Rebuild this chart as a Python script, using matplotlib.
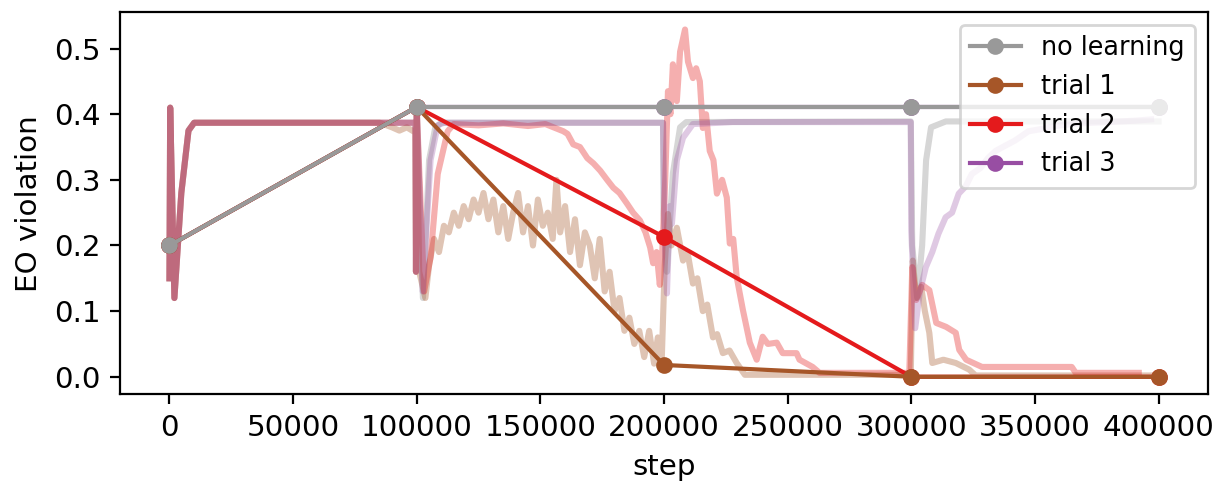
import matplotlib
matplotlib.use("Agg")
import matplotlib.pyplot as plt

# evaluation points (every 100000 steps)
eval_steps = [0, 100000, 200000, 300000, 400000]
eval_nolearn = [0.2, 0.411, 0.411, 0.411, 0.411]
eval_trial1 = [0.2, 0.411, 0.018, 0.0, 0.0]
eval_trial2 = [0.2, 0.411, 0.213, 0.0, 0.0]
eval_trial3 = [0.2, 0.411, 0.411, 0.411, 0.411]

# training traces
nolearn_x = [0, 300, 2000, 4800, 7700, 10000, 99500, 99700, 100000, 102500, 105000,
             107500, 110000, 199600, 199800, 201200, 203600, 206500, 209000, 299800,
             300400, 302400, 304400, 306000, 308000, 314000, 400000]
nolearn_y = [0.15, 0.41, 0.12, 0.28, 0.375, 0.387, 0.387, 0.16, 0.41, 0.12, 0.33,
             0.38, 0.387, 0.387, 0.25, 0.16, 0.31, 0.38, 0.388, 0.389,
             0.20, 0.12, 0.20, 0.33, 0.38, 0.389, 0.389]

trial3_x = [0, 300, 2000, 4800, 7700, 10000, 99500, 99700, 100000, 102400, 105600,
            108500, 111000, 199600, 200400, 201200, 202400, 203200, 205200, 207700,
            211700, 227800, 299800, 300000, 301600, 303500, 305900, 308500, 311000,
            313900, 316500, 319200, 322000, 324500, 328000, 331000, 334100, 338000,
            342000, 347400, 352000, 358000, 367600, 380000, 390000, 397000]
trial3_y = [0.15, 0.41, 0.12, 0.28, 0.375, 0.387, 0.387, 0.16, 0.41, 0.13, 0.33,
            0.383, 0.387, 0.387, 0.20, 0.127, 0.26, 0.233, 0.33, 0.364,
            0.385, 0.388, 0.388, 0.223, 0.074, 0.13, 0.167, 0.19, 0.218,
            0.243, 0.25, 0.279, 0.29, 0.309, 0.318, 0.333, 0.344, 0.352,
            0.36, 0.374, 0.377, 0.382, 0.386, 0.388, 0.39, 0.392]

trial1_x = [0, 300, 2000, 4800, 7700, 10000, 85000, 90000, 93000, 96000, 99500, 99700,
            100000, 101000, 103500, 105000, 107000, 109000, 111000, 113000, 115000,
            117000, 119000, 121000, 123000, 125000, 127000, 129000, 131000, 133000,
            135000, 137000, 139000, 141000, 143000, 145000, 147000, 149000, 151000,
            153000, 155000, 156500, 158000, 160000, 162000, 164000, 166000, 168000,
            170000, 172000, 174000, 176000, 178000, 180000, 182000, 184000, 186000,
            188000, 190000, 192000, 194000, 196000, 197500, 199000, 200300, 201600,
            203000, 205200, 207700, 209500, 211700, 213500, 215700, 217500, 219800,
            221500, 223800, 226500, 229400, 232700, 299800, 300600, 302000, 304000,
            305500, 307300, 308500, 313000, 318000, 323400, 326000, 400000]
trial1_y = [0.15, 0.41, 0.12, 0.28, 0.375, 0.387, 0.387, 0.38, 0.375, 0.38, 0.372, 0.16,
            0.41, 0.16, 0.12, 0.17, 0.21, 0.19, 0.23, 0.22, 0.25,
            0.23, 0.26, 0.24, 0.27, 0.25, 0.28, 0.24, 0.27, 0.22,
            0.26, 0.21, 0.25, 0.28, 0.22, 0.26, 0.20, 0.27, 0.23,
            0.25, 0.21, 0.30, 0.22, 0.26, 0.19, 0.24, 0.17, 0.22,
            0.20, 0.15, 0.21, 0.13, 0.16, 0.10, 0.12, 0.07, 0.09,
            0.05, 0.07, 0.03, 0.07, 0.02, 0.06, 0.015, 0.17, 0.248,
            0.20, 0.227, 0.177, 0.19, 0.142, 0.15, 0.10, 0.11, 0.06,
            0.065, 0.036, 0.04, 0.021, 0.003, 0.003, 0.177, 0.12, 0.137,
            0.10, 0.067, 0.021, 0.026, 0.021, 0.011, 0.002, 0.002]

trial2_x = [0, 300, 2000, 4800, 7700, 10000, 99500, 99700, 100000, 103000, 105600,
            108500, 112500, 115000, 125000, 135000, 145000, 152000, 159300, 161000,
            163300, 166000, 169000, 171500, 174200, 177000, 179500, 182000, 185000,
            187500, 190300, 192500, 194400, 195600, 197000, 198300, 199200, 200500,
            201600, 202600, 203600, 205200, 206500, 208500, 209700, 211700, 213000,
            214500, 215700, 217000, 218500, 220000, 221400, 223500, 225400, 226600,
            228000, 229400, 231900, 234700, 237500, 239900, 242000, 245600, 248000,
            253600, 254800, 260100, 262900, 299200, 300400, 302000, 304400, 307300,
            310100, 314100, 318000, 319400, 322200, 328600, 364900, 366500, 392000]
trial2_y = [0.15, 0.41, 0.12, 0.28, 0.375, 0.387, 0.387, 0.16, 0.41, 0.13, 0.182,
            0.309, 0.374, 0.385, 0.383, 0.386, 0.382, 0.385, 0.374, 0.37,
            0.354, 0.35, 0.333, 0.325, 0.314, 0.30, 0.288, 0.28, 0.264,
            0.25, 0.238, 0.22, 0.197, 0.173, 0.19, 0.14, 0.182, 0.30,
            0.435, 0.40, 0.476, 0.42, 0.495, 0.529, 0.48, 0.455, 0.47,
            0.45, 0.379, 0.40, 0.344, 0.33, 0.279, 0.30, 0.273, 0.203,
            0.21, 0.152, 0.102, 0.052, 0.026, 0.061, 0.05, 0.052, 0.036,
            0.036, 0.026, 0.015, 0.006, 0.006, 0.167, 0.117, 0.14, 0.132,
            0.082, 0.076, 0.067, 0.041, 0.026, 0.015, 0.015, 0.006, 0.006]

c_nolearn = '#999999'
c_trial1 = '#a65628'
c_trial2 = '#e41a1c'
c_trial3 = '#984ea3'

plt.rcParams['font.size'] = 10.6

fig, ax = plt.subplots(figsize=(6.085, 2.43), dpi=200)

# faint training traces
ax.plot(nolearn_x, nolearn_y, color=c_nolearn, alpha=0.4, lw=2.2)
ax.plot(trial1_x, trial1_y, color=c_trial1, alpha=0.35, lw=2.2)
ax.plot(trial2_x, trial2_y, color=c_trial2, alpha=0.35, lw=2.2)
ax.plot(trial3_x, trial3_y, color=c_trial3, alpha=0.3, lw=2.2)

# evaluation lines, last one drawn on top
l3, = ax.plot(eval_steps, eval_trial3, marker='o', ms=5, color=c_trial3, label='trial 3')
l2, = ax.plot(eval_steps, eval_trial2, marker='o', ms=5, color=c_trial2, label='trial 2')
l1, = ax.plot(eval_steps, eval_trial1, marker='o', ms=5, color=c_trial1, label='trial 1')
l0, = ax.plot(eval_steps, eval_nolearn, marker='o', ms=5, color=c_nolearn, label='no learning')

ax.set_xlabel('step')
ax.set_ylabel('EO violation')
ax.legend(handles=[l0, l1, l2, l3], loc='upper right', fontsize=9.2)

fig.subplots_adjust(left=0.0986, right=0.9926, top=0.975, bottom=0.189)
plt.savefig('out.png', dpi=200)
